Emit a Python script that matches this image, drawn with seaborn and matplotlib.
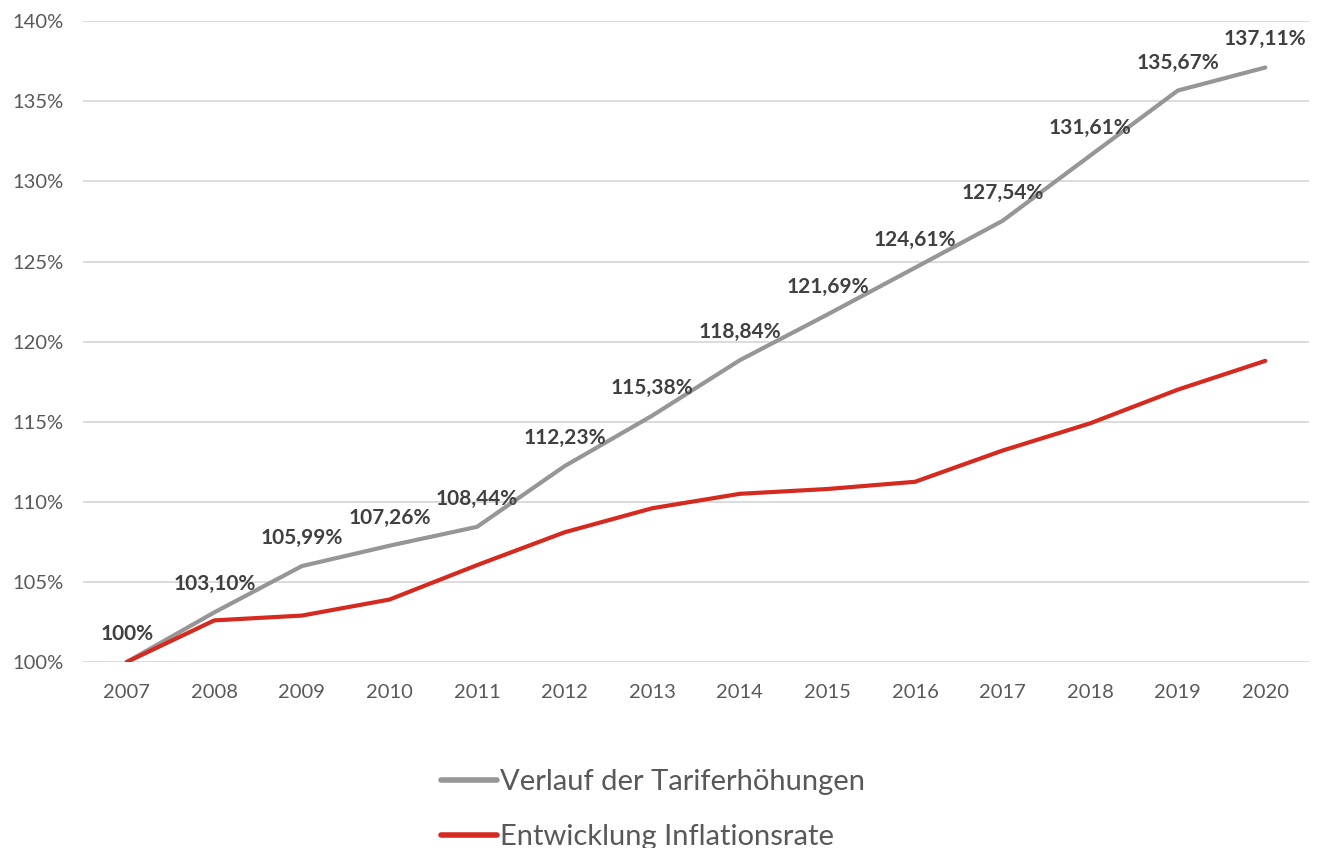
import pandas as pd
import seaborn as sns
import matplotlib
import matplotlib.pyplot as plt
from matplotlib.ticker import FuncFormatter

matplotlib.use('Agg')

# data
years = [2007, 2008, 2009, 2010, 2011, 2012, 2013, 2014, 2015, 2016, 2017, 2018, 2019, 2020]
tarif = [100.0, 103.10, 105.99, 107.26, 108.44, 112.23, 115.38, 118.84, 121.69, 124.61, 127.54, 131.61, 135.67, 137.11]
inflation = [100.0, 102.6, 102.9, 103.9, 106.05, 108.1, 109.6, 110.5, 110.8, 111.25, 113.2, 114.9, 117.0, 118.8]
tarif_labels = ["100%", "103,10%", "105,99%", "107,26%", "108,44%", "112,23%", "115,38%",
                "118,84%", "121,69%", "124,61%", "127,54%", "131,61%", "135,67%", "137,11%"]
series_names = ["Verlauf der Tariferhöhungen", "Entwicklung Inflationsrate"]
colors = ["#969696", "#d42a20"]

df = pd.DataFrame({
    "Jahr": years * 2,
    "Wert": tarif + inflation,
    "Reihe": [series_names[0]] * len(years) + [series_names[1]] * len(years),
})

sns.set_theme(style="white")
plt.rcParams['font.family'] = ['Lato', 'DejaVu Sans']

fig = plt.figure(figsize=(13.21, 8.48), dpi=100)
ax = fig.add_axes([0.0628, 0.2193, 0.9282, 0.7557])

sns.lineplot(data=df, x="Jahr", y="Wert", hue="Reihe", palette=colors,
             linewidth=3, ax=ax, legend=False)

# data labels above the grey line
for x, y, lab in zip(years, tarif, tarif_labels):
    ax.annotate(lab, (x, y), xytext=(0, 13), textcoords="offset points",
                ha="center", va="bottom", fontsize=15, fontweight="bold", color="#404040")

ax.set_xlim(2006.5, 2020.5)
ax.set_ylim(100, 140)
ax.set_xticks(years)
ax.set_yticks(range(100, 141, 5))
ax.yaxis.set_major_formatter(FuncFormatter(lambda v, p: f"{int(v)}%"))
ax.tick_params(axis="both", length=0, labelsize=14.5, labelcolor="#595959")
ax.tick_params(axis="y", pad=14)
ax.tick_params(axis="x", pad=16)
ax.set_xlabel("")
ax.set_ylabel("")
ax.grid(axis="y", color="#d9d9d9", linewidth=1.3)
for s in ax.spines.values():
    s.set_visible(False)
ax.set_axisbelow(True)

handles = [plt.Line2D([], [], color=c, linewidth=4, solid_capstyle="round") for c in colors]
fig.legend(handles, series_names, loc="upper left", bbox_to_anchor=(0.323, 0.11),
           frameon=False, fontsize=21, labelcolor="#595959", handlelength=1.9,
           handletextpad=0.1, labelspacing=0.98, borderpad=0)

fig.savefig("out.png", dpi=100)
